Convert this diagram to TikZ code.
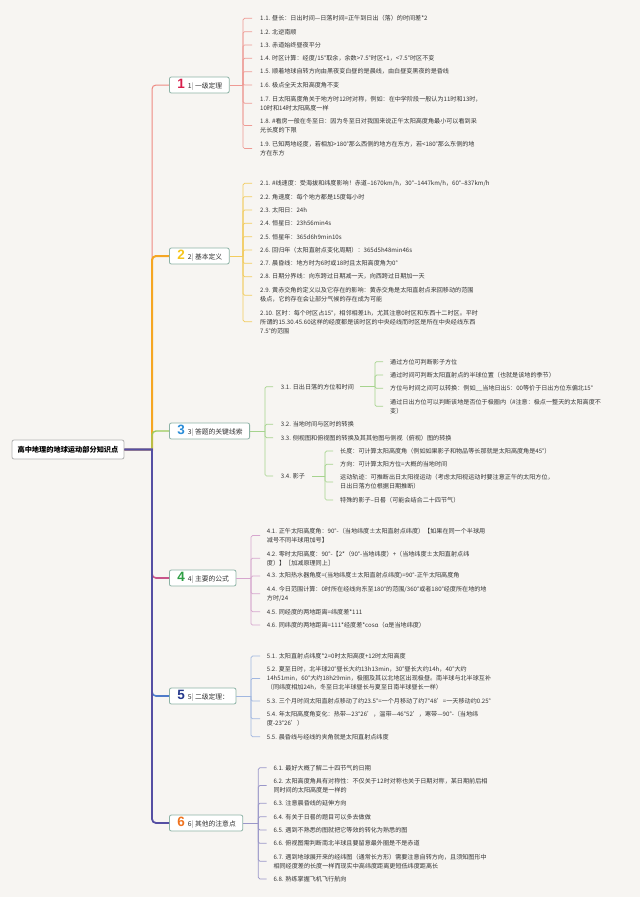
\documentclass[tikz,border=0pt]{standalone}
\usepackage{fontspec}
\setmainfont{Noto Sans CJK SC}
\newfontfamily\digitfont{Liberation Sans}
\definecolor{bg}{HTML}{F7F5F2}
\definecolor{txt}{HTML}{333333}
\definecolor{boxc}{HTML}{8DB3A6}
\definecolor{c1}{HTML}{EE8A82}
\definecolor{c2}{HTML}{F5A623}
\definecolor{c3}{HTML}{9CCB5A}
\definecolor{c4}{HTML}{C8558A}
\definecolor{c5}{HTML}{4F7BC9}
\definecolor{c6}{HTML}{554FA3}
\definecolor{k1}{HTML}{EE9A94}
\definecolor{k2}{HTML}{F2CC5E}
\definecolor{k3}{HTML}{A6D38E}
\definecolor{k4}{HTML}{D6A6CE}
\definecolor{k5}{HTML}{A1B7E0}
\definecolor{k6}{HTML}{9A97C9}
\definecolor{d1}{HTML}{D81E4B}
\definecolor{d2}{HTML}{F6C61C}
\definecolor{d3}{HTML}{2C8ED8}
\definecolor{d4}{HTML}{2E9E44}
\definecolor{d5}{HTML}{26398C}
\definecolor{d6}{HTML}{F0731E}
\newcommand\brn[3]{\hspace*{8pt}{\digitfont\bfseries\fontsize{13.5}{13.5}\selectfont\color{#1}#2}\hspace{3pt}#2{\color{gray}|}\hspace{1.5pt}#3\hspace*{7pt}}
\begin{document}
\begin{tikzpicture}[x=1pt,y=-1pt,
  item/.style={anchor=west, align=left, inner sep=0pt, font=\fontsize{6.1}{9}\selectfont, text=txt},
  branch/.style={draw=boxc, line width=0.8pt, rounded corners=2pt, fill=white, anchor=west, inner xsep=0pt, inner ysep=0pt, minimum height=16pt, font=\fontsize{6.8}{8}\selectfont, text=txt},
  rootbox/.style={draw=gray!60, line width=0.8pt, rounded corners=2pt, fill=white, minimum width=112pt, minimum height=19pt, inner sep=0pt, font=\fontsize{7.2}{9}\selectfont\bfseries, text=black},
  brk/.style={line width=0.7pt, rounded corners=1.5pt},
  trk/.style={rounded corners=4pt}
]
\fill[bg] (0,0) rectangle (640,897);
\useasboundingbox (0,0) rectangle (640,897);

% root and branches
\node[rootbox] (root) at (68,449.5) {高中地理的地球运动部分知识点};
\node[branch] (n1) at (169,85) {\brn{d1}{1}{一级定理}};
\node[branch] (n2) at (169,256) {\brn{d2}{2}{基本定义}};
\node[branch] (n3) at (169,431) {\brn{d3}{3}{答题的关键线索}};
\node[branch] (n4) at (169,578) {\brn{d4}{4}{主要的公式}};
\node[branch] (n5) at (169,696) {\brn{d5}{5}{二级定理：}};
\node[branch] (n6) at (169,823) {\brn{d6}{6}{其他的注意点}};

\coordinate (tk) at (152,449.5);
\draw[c1, line width=1pt] (root.east) -- (tk) [trk] |- (n1.west);
\draw[c2, line width=2pt] (root.east) -- (tk) [trk] |- (n2.west);
\draw[c3, line width=1.4pt] (root.east) -- (tk) [trk] |- (n3.west);
\draw[c4, line width=1.6pt] (root.east) -- (tk) [trk] |- (n4.west);
\draw[c5, line width=1.6pt] (root.east) -- (tk) [trk] |- (n5.west);
\draw[c6, line width=1.8pt] (root.east) -- (tk) [trk] |- (n6.west);

% ---------- section 1
\node[item] (i11) at (260,18.3) {1.1. 昼长：日出时间—日落时间=正午到日出（落）的时间差*2};
\node[item] (i12) at (260,31.7) {1.2. 北逆南顺};
\node[item] (i13) at (260,45) {1.3. 赤道始终昼夜平分};
\node[item] (i14) at (260,58.3) {1.4. 时区计算：经度/15°取余，余数>7.5°时区+1，<7.5°时区不变};
\node[item] (i15) at (260,71.7) {1.5. 顺着地球自转方向由黑夜变白昼的是晨线，由白昼变黑夜的是昏线};
\node[item] (i16) at (260,85) {1.6. 极点全天太阳高度角不变};
\node[item] (i17) at (260,103.2) {1.7. 日太阳高度角关于地方时12时对称，例如：在中学阶段一般认为11时和13时，\\10时和14时太阳高度一样};
\node[item] (i18) at (260,125.5) {1.8. \#看房一般在冬至日：因为冬至日对我国来说正午太阳高度角最小可以看到采\\光长度的下限};
\node[item] (i19) at (260,148.5) {1.9. 已知两地经度，若相加>180°那么西侧的地方在东方，若<180°那么东侧的地\\方在东方};
\coordinate (b1) at (243,85);
\draw[k1, brk] (n1.east) -- (b1);
\foreach \i in {i11,i12,i13,i14,i15,i16,i17,i18,i19}
  \draw[k1, brk] (b1) |- ([xshift=-8pt]\i.west);

% ---------- section 2
\node[item] (i21) at (260,183.3) {2.1. \#线速度：受海拔和纬度影响！赤道--1670km/h，30°--1447km/h，60°--837km/h};
\node[item] (i22) at (260,196.7) {2.2. 角速度：每个地方都是15度每小时};
\node[item] (i23) at (260,210) {2.3. 太阳日：24h};
\node[item] (i24) at (260,223.3) {2.4. 恒星日：23h56min4s};
\node[item] (i25) at (260,236.7) {2.5. 恒星年：365d6h9min10s};
\node[item] (i26) at (260,250) {2.6. 回归年（太阳直射点变化周期）：365d5h48min46s};
\node[item] (i27) at (260,263.3) {2.7. 晨昏线：地方时为6时或18时且太阳高度角为0°};
\node[item] (i28) at (260,276.7) {2.8. 日期分界线：向东跨过日期减一天，向西跨过日期加一天};
\node[item] (i29) at (260,295.2) {2.9. 黄赤交角的定义以及它存在的影响：黄赤交角是太阳直射点来回移动的范围\\极点，它的存在会让部分气候的存在成为可能};
\node[item] (i210) at (260,321.7) {2.10. 区时：每个时区占15°，相邻相差1h，尤其注意0时区和东西十二时区。平时\\所谓的15.30.45.60这样的经度都是该时区的中央经线而时区是所在中央经线东西\\7.5°的范围};
\coordinate (b2) at (243,256);
\draw[k2, brk] (n2.east) -- (b2);
\foreach \i in {i21,i22,i23,i24,i25,i26,i27,i28,i29,i210}
  \draw[k2, brk] (b2) |- ([xshift=-8pt]\i.west);

% ---------- section 3
\node[item] (i31) at (280.7,386.7) {3.1. 日出日落的方位和时间};
\node[item] (i32) at (280.7,424.3) {3.2. 当地时间与区时的转换};
\node[item] (i33) at (280.7,437.7) {3.3. 侧视图和俯视图的转换及其其他图与侧视（俯视）图的转换};
\node[item] (i34) at (280.7,476) {3.4. 影子};
\coordinate (b3) at (265,431);
\draw[k3, brk] (n3.east) -- (b3);
\foreach \i in {i31,i32,i33,i34}
  \draw[k3, brk] (b3) |- ([xshift=-7.7pt]\i.west);

\node[item] (s1) at (390,361.7) {通过方位可判断影子方位};
\node[item] (s2) at (390,375) {通过时间可判断太阳直射点的半球位置（也就是该地的季节）};
\node[item] (s3) at (390,388.3) {方位与时间之间可以转换：例如\_\_当地日出5：00等价于日出方位东偏北15°};
\node[item] (s4) at (390,406.3) {通过日出方位可以判断该地是否位于极圈内（\#注意：极点一整天的太阳高度不\\变）};
\coordinate (b31) at (375,386.7);
\draw[k3, brk] ([xshift=6pt]i31.east) -- (b31);
\foreach \i in {s1,s2,s3,s4}
  \draw[k3, brk] (b31) |- ([xshift=-7pt]\i.west);

\node[item] (t1) at (340,451) {长度：可计算太阳高度角（例如如果影子和物品等长那就是太阳高度角是45°）};
\node[item] (t2) at (340,464.3) {方向：可计算太阳方位=大概的当地时间};
\node[item] (t3) at (340,482) {运动轨迹：可推断出日太阳视运动（考虑太阳视运动时要注意正午的太阳方位，\\日出日落方位根据日期推断）};
\node[item] (t4) at (340,500) {特殊的影子--日晷（可能会结合二十四节气）};
\coordinate (b34) at (325,476);
\draw[k3, brk] ([xshift=7pt]i34.east) -- (b34);
\foreach \i in {t1,t2,t3,t4}
  \draw[k3, brk] (b34) |- ([xshift=-7pt]\i.west);

% ---------- section 4
\node[item] (i41) at (266.7,535.5) {4.1. 正午太阳高度角：90°-（当地纬度±太阳直射点纬度）【如果在同一个半球用\\减号不同半球用加号】};
\node[item] (i42) at (266.7,558.2) {4.2. 零时太阳高度：90°-【2*（90°-当地纬度）+（当地纬度±太阳直射点纬\\度）】［加减原理同上］};
\node[item] (i43) at (266.7,576) {4.3. 太阳热水器角度=(当地纬度±太阳直射点纬度)=90°-正午太阳高度角};
\node[item] (i44) at (266.7,593.8) {4.4. 今日范围计算：0时所在经线向东至180°的范围/360°或者180°经度所在地的地\\方时/24};
\node[item] (i45) at (266.7,611.7) {4.5. 同经度的两地距离=纬度差*111};
\node[item] (i46) at (266.7,625) {4.6. 同纬度的两地距离=111*经度差*cosα（α是当地纬度）};
\coordinate (b4) at (251,578);
\draw[k4, brk] (n4.east) -- (b4);
\foreach \i in {i41,i42,i43,i44,i45,i46}
  \draw[k4, brk] (b4) |- ([xshift=-6.7pt]\i.west);

% ---------- section 5
\node[item] (i51) at (266.7,656) {5.1. 太阳直射点纬度*2=0时太阳高度+12时太阳高度};
\node[item] (i52) at (266.7,678.4) {5.2. 夏至日时，北半球20°昼长大约13h13min，30°昼长大约14h，40°大约\\14h51min，60°大约18h29min，极圈及其以北地区出现极昼。南半球与北半球互补\\（同纬度相加24h，冬至日北半球昼长与夏至日南半球昼长一样）};
\node[item] (i53) at (266.7,701) {5.3. 三个月时间太阳直射点移动了约23.5°=一个月移动了约7°48'=一天移动约0.25°};
\node[item] (i54) at (266.7,718.8) {5.4. 年太阳高度角变化：热带—23°26'，温带—46°52'，寒带—90°-（当地纬\\度-23°26'）};
\node[item] (i55) at (266.7,736.7) {5.5. 晨昏线与经线的夹角就是太阳直射点纬度};
\coordinate (b5) at (251,696);
\draw[k5, brk] (n5.east) -- (b5);
\foreach \i in {i51,i52,i53,i54,i55}
  \draw[k5, brk] (b5) |- ([xshift=-6.7pt]\i.west);

% ---------- section 6
\node[item] (i61) at (273.3,767.7) {6.1. 最好大概了解二十四节气的日期};
\node[item] (i62) at (273.3,785.5) {6.2. 太阳高度角具有对称性：不仅关于12时对称也关于日期对称，某日期前后相\\同时间的太阳高度是一样的};
\node[item] (i63) at (273.3,803.3) {6.3. 注意晨昏线的延伸方向};
\node[item] (i64) at (273.3,816.7) {6.4. 有关于日晷的题目可以多去做做};
\node[item] (i65) at (273.3,830) {6.5. 遇到不熟悉的图就把它等效的转化为熟悉的图};
\node[item] (i66) at (273.3,843.3) {6.6. 俯视图需判断南北半球且要留意最外圈是不是赤道};
\node[item] (i67) at (273.3,861.2) {6.7. 遇到地球展开来的经纬图（通常长方形）需要注意自转方向，且须知图形中\\相同经度差的长度一样而现实中高纬度距离更短低纬度距离长};
\node[item] (i68) at (273.3,879) {6.8. 熟练掌握飞机飞行航向};
\coordinate (b6) at (258.3,823);
\draw[k6, brk] (n6.east) -- (b6);
\foreach \i in {i61,i62,i63,i64,i65,i66,i67,i68}
  \draw[k6, brk] (b6) |- ([xshift=-6.6pt]\i.west);
\end{tikzpicture}
\end{document}
